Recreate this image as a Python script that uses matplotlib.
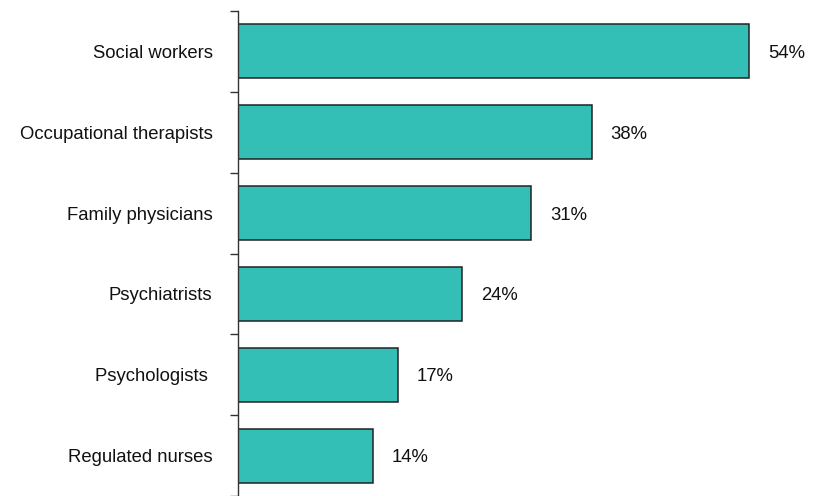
import matplotlib
matplotlib.use("Agg")
import matplotlib.pyplot as plt
import numpy as np

categories = ["Social workers", "Occupational therapists", "Family physicians",
              "Psychiatrists", "Psychologists ", "Regulated nurses"]
values = [54, 37.4, 31, 23.7, 16.9, 14.3]
value_labels = ["54%", "38%", "31%", "24%", "17%", "14%"]

plt.rcParams['font.family'] = ['Liberation Sans', 'DejaVu Sans']

fig = plt.figure(figsize=(8.21, 4.96), dpi=100)
ax = fig.add_axes([237.5/821, 0.0, (806-237.5)/821, 1 - 11/496])

y = np.arange(len(categories))
ax.barh(y, values, height=0.67, color="#33BFB5", edgecolor="#222222", linewidth=1.1)
ax.set_xlim(0, 60)
ax.set_ylim(len(categories) - 0.5, -0.5)

for yi, v, lab in zip(y, values, value_labels):
    ax.annotate(lab, (v, yi), xytext=(13.5, -1.5), textcoords="offset points",
                va="center", ha="left", fontsize=13.3, color="#111111")

ax.set_yticks(y)
ax.set_yticklabels(categories, fontsize=13.3, color="#111111")
ax.tick_params(axis="y", which="major", length=0, pad=18)
ax.set_yticks(np.arange(-0.5, len(categories)), minor=True)
ax.tick_params(axis="y", which="minor", length=6, width=1, color="#333333")
ax.set_xticks([])

for s in ["top", "right", "bottom"]:
    ax.spines[s].set_visible(False)
ax.spines["left"].set_color("#333333")
ax.spines["left"].set_linewidth(1)

fig.savefig("out.png", dpi=100)
